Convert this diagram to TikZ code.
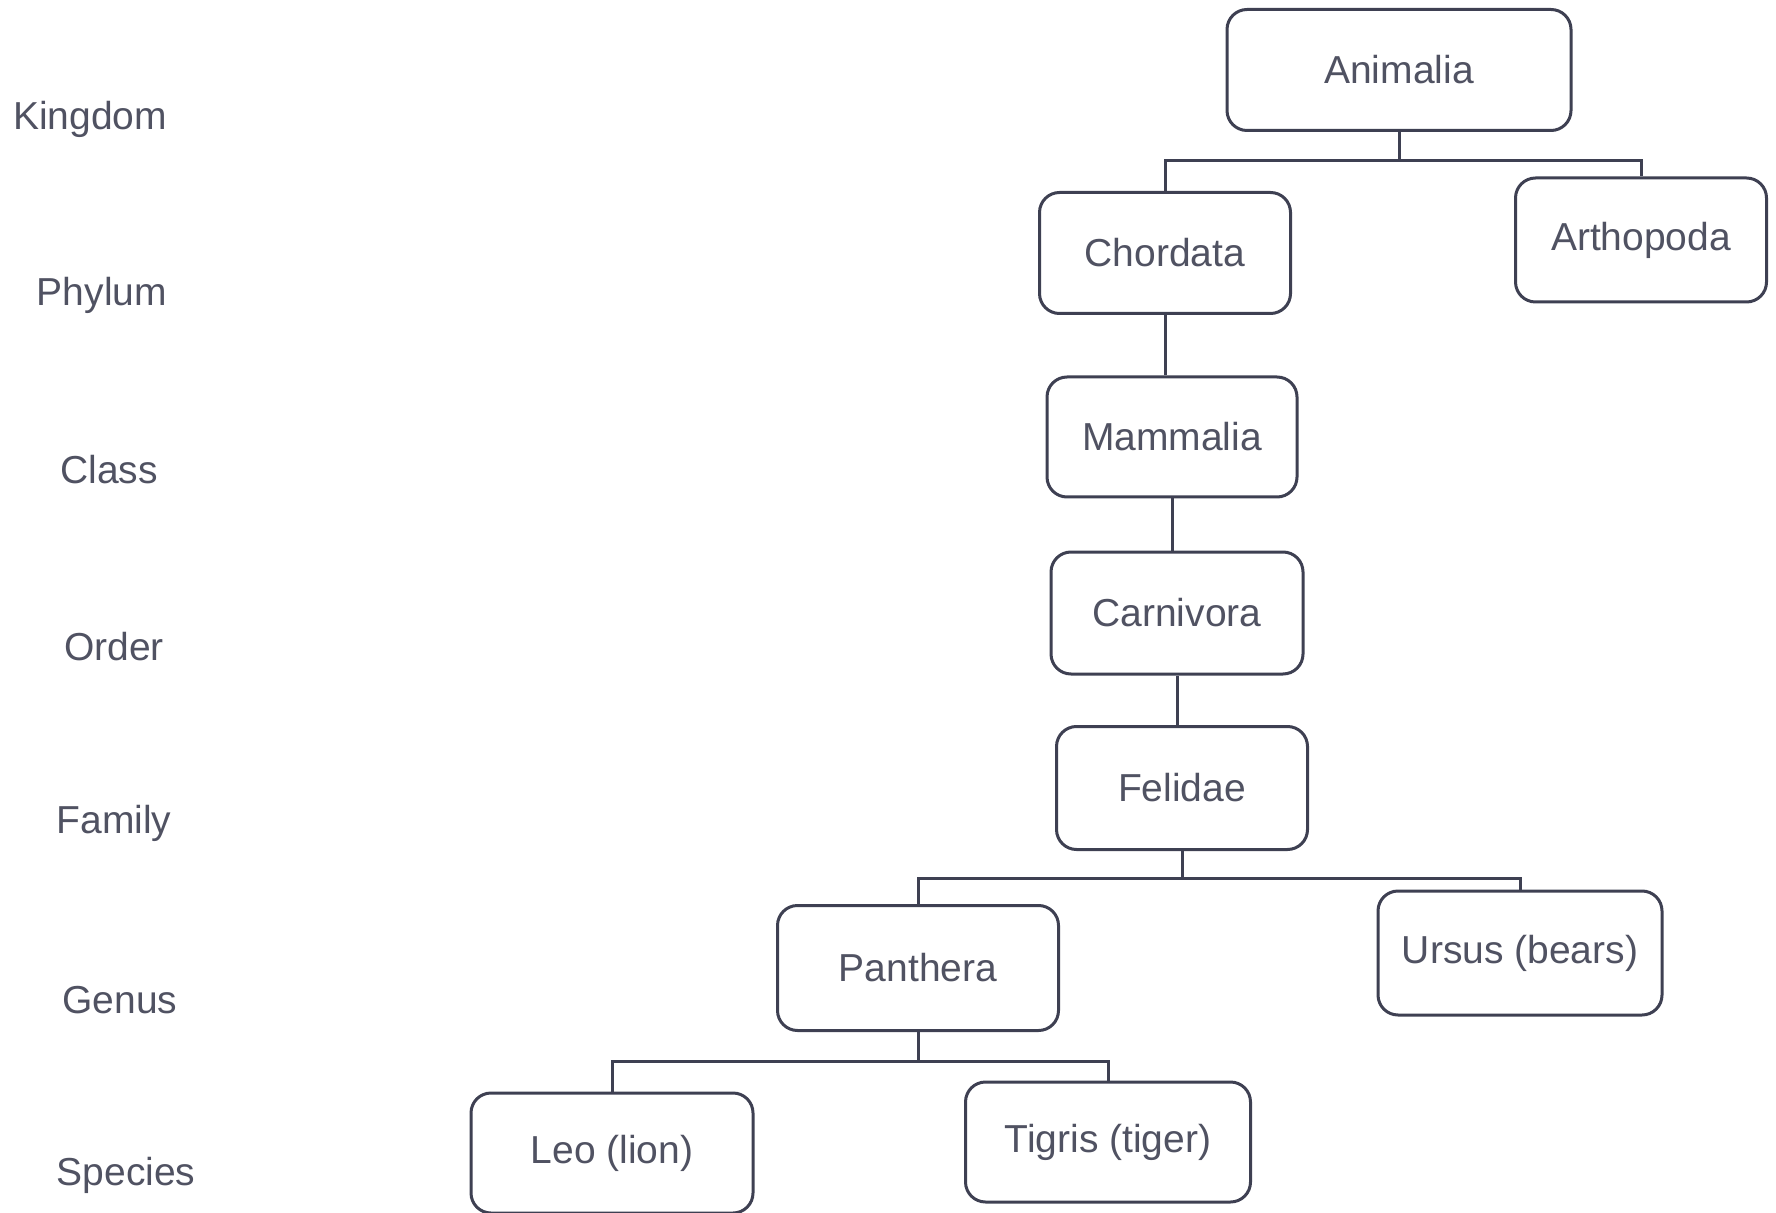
\documentclass[tikz,border=0pt]{standalone}
\usepackage{fontspec}
\setmainfont{Liberation Sans}
\definecolor{ink}{RGB}{62,64,82}
\definecolor{txt}{RGB}{80,82,98}
\begin{document}
\begin{tikzpicture}[x=0.5pt,y=-0.5pt,
  taxon/.style={draw=ink, line width=1.5pt, rounded corners=10pt, fill=white,
    text=txt, font=\fontsize{19.5}{23}\selectfont, inner sep=0pt},
  rank/.style={text=txt, font=\fontsize{19.5}{23}\selectfont, inner sep=0pt},
  link/.style={draw=ink, line width=1.5pt}]
\useasboundingbox (0,0) rectangle (1776,1213);

% rank labels down the left side
\node[rank] (lk) at (90,119) {Kingdom};
\node[rank] (lp) at (102,295) {Phylum};
\node[rank] (lc) at (109,470) {Class};
\node[rank] (lo) at (114,647) {Order};
\node[rank] (lf) at (114,823) {Family};
\node[rank] (lg) at (120,1000) {Genus};
\node[rank] (ls) at (126,1175) {Species};

% taxonomy boxes
\node[taxon, minimum width=172pt, minimum height=60.5pt] (anim) at (1399,70) {Animalia};
\node[taxon, minimum width=125.5pt, minimum height=62pt] (arth) at (1641,240) {Arthopoda};
\node[taxon, minimum width=125.5pt, minimum height=60.5pt] (chord) at (1165,253) {Chordata};
\node[taxon, minimum width=125pt, minimum height=60pt] (mamm) at (1172,437) {Mammalia};
\node[taxon, minimum width=126pt, minimum height=61pt] (carn) at (1177,613) {Carnivora};
\node[taxon, minimum width=125.5pt, minimum height=61.5pt] (fel) at (1182,788) {Felidae};
\node[taxon, minimum width=140.5pt, minimum height=62.5pt] (pan) at (918,968) {Panthera};
\node[taxon, minimum width=142pt, minimum height=62pt] (urs) at (1520,953) {Ursus (bears)};
\node[taxon, minimum width=141pt, minimum height=60pt] (leo) at (612,1153) {Leo (lion)};
\node[taxon, minimum width=142.5pt, minimum height=60pt] (tig) at (1108,1142) {Tigris (tiger)};

% junctions of the branching connectors
\coordinate (j1) at (1399,161);
\coordinate (j2) at (1182,878);
\coordinate (j3) at (918,1061);

\draw[link] (anim.south) -- (j1);
\draw[link] (chord.north) |- (j1) -| (arth.north);
\draw[link] (chord.south) -- (mamm.north -| chord.south);
\draw[link] (mamm.south) -- (carn.north -| mamm.south);
\draw[link] (carn.south) -- (fel.north -| carn.south);
\draw[link] (fel.south) -- (j2);
\draw[link] (pan.north) |- (j2) -| (urs.north);
\draw[link] (pan.south) -- (j3);
\draw[link] (leo.north) |- (j3) -| (tig.north);
\end{tikzpicture}
\end{document}
